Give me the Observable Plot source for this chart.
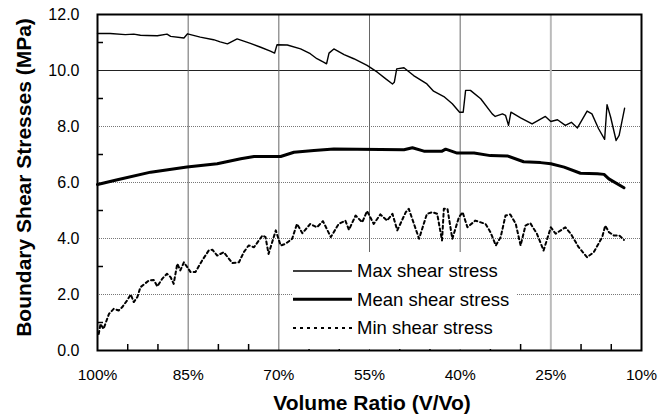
<!DOCTYPE html>
<html><head><meta charset="utf-8">
<script src="https://cdn.jsdelivr.net/npm/d3@7"></script>
<script src="https://cdn.jsdelivr.net/npm/@observablehq/plot@0.6"></script>
<style>
html,body{margin:0;padding:0;background:#fff;}
#wrap{position:relative;width:665px;height:416px;}
#legend{position:absolute;left:292px;top:252px;width:225px;height:97px;background:#fff;}
</style></head><body><div id="wrap"></div>
<script>
const FONT = '"Liberation Sans", Arial, Helvetica, sans-serif';
const xTicks = [100, 85, 70, 55, 40, 25, 10];
const xMinor = [95, 90, 80, 75, 65, 60, 50, 45, 35, 30, 20, 15];
const yTicks = [0, 2, 4, 6, 8, 10, 12];
const yMinor = [1, 3, 5, 7, 9, 11];
const seriesNames = ["Max shear stress", "Mean shear stress", "Min shear stress"];
const xTitle = "Volume Ratio (V/Vo)";
const yTitle = "Boundary Shear Stresses (MPa)";

const maxV = [100.0, 97.9, 95.4, 94.0, 92.9, 91.8, 90.1, 88.5, 87.9, 85.7, 85.1, 83.0, 80.8, 79.7, 78.5, 76.9, 74.7, 73.0, 71.4, 70.7, 70.3, 68.6, 66.4, 64.8, 63.7, 62.6, 62.1, 61.7, 60.9, 59.2, 57.6, 55.4, 53.7, 52.3, 51.2, 50.9, 50.5, 49.3, 47.7, 45.5, 44.4, 42.7, 41.3, 40.1, 39.5, 39.1, 38.3, 36.6, 34.7, 34.2, 33.0, 32.5, 32.0, 31.6, 30.0, 28.1, 25.9, 25.0, 23.9, 22.6, 21.6, 20.6, 19.0, 18.2, 17.1, 16.1, 15.7, 15.1, 14.2, 13.7, 12.8];
const maxS = [11.32, 11.32, 11.28, 11.30, 11.26, 11.25, 11.24, 11.30, 11.22, 11.16, 11.31, 11.19, 11.10, 11.02, 10.95, 11.13, 10.97, 10.83, 10.69, 10.62, 10.92, 10.91, 10.77, 10.60, 10.42, 10.30, 10.24, 10.62, 10.77, 10.57, 10.42, 10.18, 9.94, 9.70, 9.52, 9.58, 10.06, 10.10, 9.82, 9.52, 9.26, 9.07, 8.81, 8.51, 8.51, 9.29, 9.29, 8.99, 8.45, 8.36, 8.45, 8.40, 8.04, 8.51, 8.31, 8.09, 8.36, 8.18, 8.24, 8.04, 8.15, 7.95, 8.55, 8.45, 7.92, 7.54, 8.78, 8.33, 7.50, 7.68, 8.65];

const meanV = [100.0, 96.7, 91.2, 85.2, 80.2, 76.3, 74.1, 69.7, 67.5, 64.2, 60.9, 49.3, 47.9, 46.0, 43.0, 42.4, 40.5, 37.7, 35.0, 32.2, 29.5, 26.7, 25.0, 22.8, 20.1, 17.3, 16.2, 15.4, 12.9];
const meanS = [5.93, 6.10, 6.37, 6.55, 6.67, 6.85, 6.93, 6.93, 7.08, 7.14, 7.20, 7.17, 7.24, 7.12, 7.12, 7.19, 7.05, 7.05, 6.96, 6.95, 6.74, 6.71, 6.67, 6.55, 6.33, 6.31, 6.29, 6.13, 5.81];

const minV = [99.8, 99.5, 99.0, 98.1, 97.3, 96.5, 95.9, 95.1, 94.5, 94.0, 93.4, 92.9, 91.5, 90.7, 90.1, 89.3, 88.5, 87.9, 87.4, 86.8, 86.3, 85.7, 84.6, 83.8, 82.7, 81.6, 81.0, 80.2, 79.1, 77.7, 76.6, 75.8, 75.0, 74.1, 72.7, 72.2, 71.7, 70.5, 69.7, 68.9, 67.8, 67.0, 66.1, 64.8, 63.7, 62.7, 61.4, 60.1, 59.0, 58.4, 57.3, 56.2, 55.4, 54.3, 53.2, 52.1, 51.2, 50.4, 49.0, 48.5, 46.8, 45.5, 44.6, 43.8, 43.0, 42.7, 42.1, 41.3, 40.2, 39.6, 38.8, 37.5, 35.8, 35.0, 34.1, 33.3, 32.5, 31.7, 30.8, 30.0, 29.2, 28.4, 27.3, 26.2, 25.0, 24.2, 22.6, 21.7, 20.4, 19.0, 17.9, 16.5, 16.0, 15.4, 14.6, 13.7, 12.9];
const minS = [0.59, 0.95, 0.77, 1.31, 1.49, 1.43, 1.55, 1.79, 2.00, 1.73, 1.91, 2.26, 2.50, 2.52, 2.29, 2.56, 2.74, 2.62, 2.38, 3.10, 2.86, 3.15, 2.80, 2.80, 3.21, 3.57, 3.60, 3.39, 3.51, 3.12, 3.15, 3.51, 3.75, 3.69, 4.11, 4.05, 3.45, 4.29, 3.75, 3.81, 3.99, 4.52, 4.19, 4.52, 4.40, 4.62, 4.05, 4.52, 4.64, 4.31, 4.82, 4.58, 4.98, 4.52, 4.86, 4.64, 4.88, 4.29, 4.94, 5.06, 3.99, 4.88, 4.94, 4.88, 3.93, 5.06, 5.06, 3.99, 4.76, 4.94, 4.40, 4.64, 4.52, 4.23, 3.75, 4.05, 4.82, 4.86, 4.52, 3.75, 4.46, 4.55, 4.17, 3.57, 4.40, 4.17, 4.40, 4.17, 3.69, 3.33, 3.51, 4.05, 4.46, 4.23, 4.11, 4.11, 3.95];

const toRows = (xs, ys) => xs.map((v, i) => ({v, s: ys[i]}));
const maxData = toRows(maxV, maxS);
const meanData = toRows(meanV, meanS);
const minData = toRows(minV, minS);

const W = 665, H = 416, mL = 97, mR = 24, mT = 14, mB = 66;
const plotW = W - mL - mR, plotH = H - mT - mB;

const chart = Plot.plot({
  width: W, height: H,
  marginLeft: mL, marginRight: mR, marginTop: mT, marginBottom: mB,
  style: {fontFamily: FONT, fontSize: "15px", color: "black", background: "white"},
  x: {domain: [100, 10], ticks: xTicks, tickFormat: d => d + "%", label: null},
  y: {domain: [0, 12], ticks: yTicks, tickFormat: d3.format(".1f"), label: null},
  marks: [
    Plot.gridY([2, 4, 6, 8], {stroke: "#777", strokeOpacity: 1, strokeDasharray: "1,1"}),
    Plot.ruleY([10], {stroke: "#222", strokeWidth: 1.2}),
    Plot.gridX([85, 70, 55, 40], {stroke: "#666", strokeOpacity: 1}),
    Plot.gridX([25], {stroke: "#bbb", strokeOpacity: 1, strokeWidth: 2}),
    Plot.ruleX(xMinor, {insetTop: plotH - 6, stroke: "black", strokeWidth: 1.5}),
    Plot.ruleY(yMinor, {insetRight: plotW - 6, stroke: "black", strokeWidth: 1.5}),
    Plot.axisX({ticks: xTicks, tickSize: 0, tickPadding: 18, tickFormat: d => d + "%", fontSize: 15.5}),
    Plot.axisY({ticks: yTicks, tickSize: 0, tickPadding: 18, tickFormat: d3.format(".1f"), fontSize: 16}),
    Plot.line(maxData, {x: "v", y: "s", stroke: "black", strokeWidth: 1.4}),
    Plot.line(meanData, {x: "v", y: "s", stroke: "black", strokeWidth: 3}),
    Plot.line(minData, {x: "v", y: "s", stroke: "black", strokeWidth: 2, strokeDasharray: "3,3"}),
    Plot.frame({stroke: "black", strokeWidth: 2})
  ]
});
const wrap = document.getElementById("wrap");
wrap.appendChild(chart);

// axis titles
const svg = d3.select(chart);
svg.append("text")
  .attr("transform", `translate(${mL + plotW / 2 + 3},${mT + plotH + 53})`)
  .attr("text-anchor", "middle").attr("dy", "0.35em")
  .attr("font-family", FONT).attr("font-size", 21).attr("font-weight", "bold")
  .attr("fill", "black").text(xTitle);
svg.append("text")
  .attr("transform", `translate(24,${mT + plotH / 2 - 4.5}) rotate(-90)`)
  .attr("text-anchor", "middle").attr("dy", "0.35em")
  .attr("font-family", FONT).attr("font-size", 21).attr("font-weight", "bold")
  .attr("fill", "black").text(yTitle);

// legend overlay
const leg = d3.select(wrap).append("div").attr("id", "legend");
const lsvg = leg.append("svg").attr("width", 225).attr("height", 97)
  .style("font-family", FONT).style("font-size", "18.5px");
const styles = [
  {w: 1.4, dash: null},
  {w: 3, dash: null},
  {w: 2, dash: "3,4"}
];
const rowY = [19, 47.3, 76];
seriesNames.forEach((name, i) => {
  lsvg.append("line").attr("x1", 1).attr("x2", 60).attr("y1", rowY[i]).attr("y2", rowY[i])
    .attr("stroke", "black").attr("stroke-width", styles[i].w)
    .attr("stroke-dasharray", styles[i].dash);
  lsvg.append("text").attr("x", 65).attr("y", rowY[i]).attr("dy", "0.35em")
    .attr("fill", "black").text(name);
});
</script>
</body></html>
